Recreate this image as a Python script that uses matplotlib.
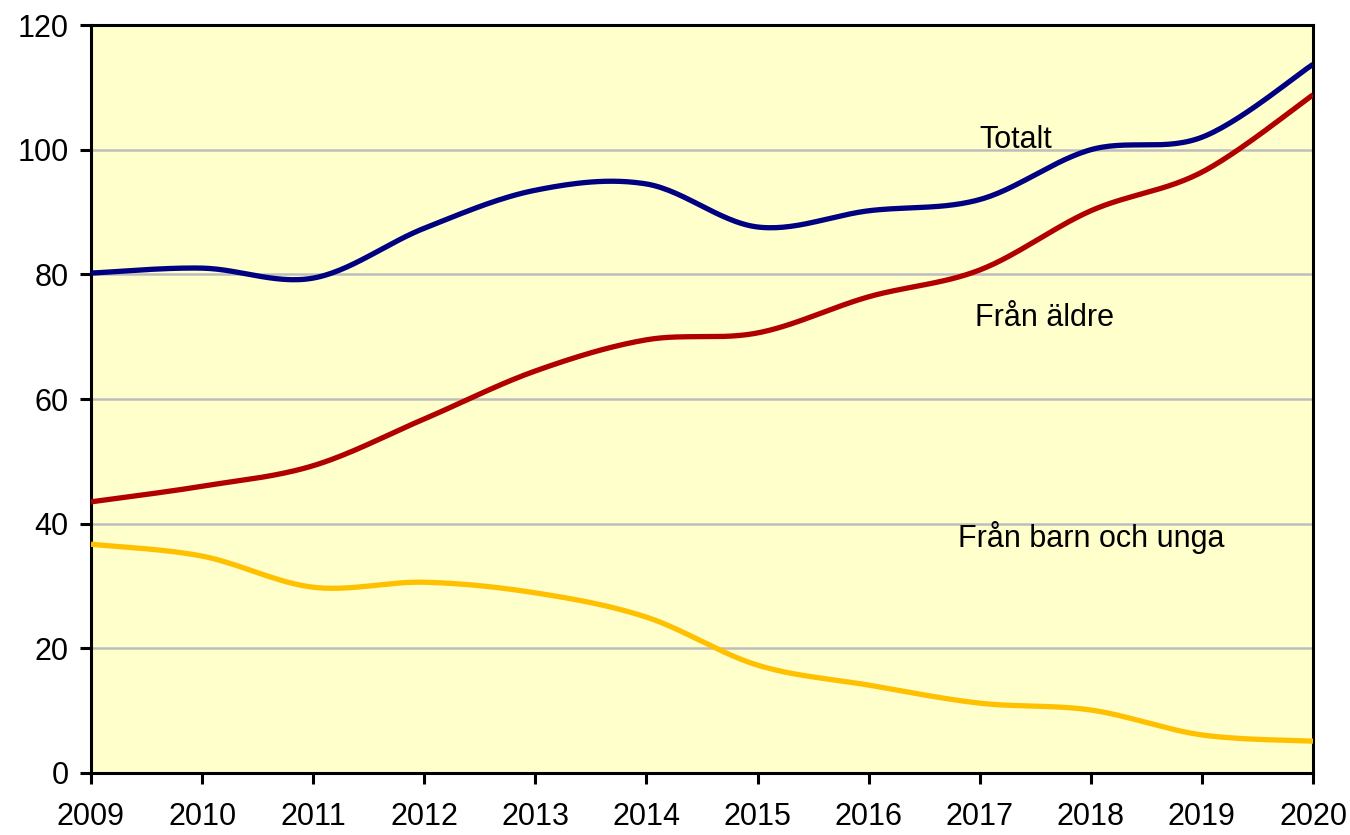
import numpy as np
import matplotlib
matplotlib.use("Agg")
import matplotlib.pyplot as plt

years = [2009, 2010, 2011, 2012, 2013, 2014, 2015, 2016, 2017, 2018, 2019, 2020]
totalt = [80.2, 81.0, 79.4, 87.4, 93.5, 94.5, 87.6, 90.2, 92.0, 100.0, 102.0, 113.7]
fran_aldre = [43.5, 46.0, 49.3, 56.8, 64.5, 69.5, 70.6, 76.4, 80.7, 90.2, 96.4, 108.8]
fran_barn = [36.7, 34.8, 29.8, 30.6, 28.9, 25.0, 17.3, 14.1, 11.2, 10.1, 6.1, 5.1]

plt.rcParams["font.family"] = ["Liberation Sans", "DejaVu Sans"]


def smooth(xs, ys, steps=30):
    """Excel-style smoothed line (Catmull-Rom through the points)."""
    x = np.asarray(xs, float)
    y = np.asarray(ys, float)
    px = np.concatenate([[x[0]], x, [x[-1]]])
    py = np.concatenate([[y[0]], y, [y[-1]]])
    out_x, out_y = [], []
    t = np.linspace(0, 1, steps, endpoint=False)
    for i in range(1, len(px) - 2):
        p0, p1, p2, p3 = px[i - 1], px[i], px[i + 1], px[i + 2]
        q0, q1, q2, q3 = py[i - 1], py[i], py[i + 1], py[i + 2]
        c1x, c2x = p1 + (p2 - p0) / 6, p2 - (p3 - p1) / 6
        c1y, c2y = q1 + (q2 - q0) / 6, q2 - (q3 - q1) / 6
        b = [(1 - t) ** 3, 3 * (1 - t) ** 2 * t, 3 * (1 - t) * t ** 2, t ** 3]
        out_x.append(b[0] * p1 + b[1] * c1x + b[2] * c2x + b[3] * p2)
        out_y.append(b[0] * q1 + b[1] * c1y + b[2] * c2y + b[3] * q2)
    out_x.append([x[-1]])
    out_y.append([y[-1]])
    return np.concatenate(out_x), np.concatenate(out_y)


fig = plt.figure(figsize=(13.5, 8.35), dpi=100)
ax = fig.add_axes([0.0674, 0.0743, 0.9052, 0.8957])
ax.set_facecolor("#FFFFCC")

for vals, color in [(totalt, "#000080"), (fran_aldre, "#B00000"), (fran_barn, "#FFC000")]:
    sx, sy = smooth(years, vals)
    ax.plot(sx, sy, color=color, linewidth=3.8, solid_capstyle="butt", zorder=3)

ax.set_xlim(2009, 2020)
ax.set_ylim(0, 120)
ax.set_xticks(years)
ax.set_yticks(range(0, 121, 20))
ax.yaxis.grid(True, color="#BDBDBD", linewidth=1.8)
ax.set_axisbelow(True)
for s in ax.spines.values():
    s.set_color("black")
    s.set_linewidth(2.2)
ax.tick_params(axis="both", direction="out", length=8, width=2.2, labelsize=22)
ax.tick_params(axis="x", pad=13)
ax.tick_params(axis="y", pad=8)

ax.text(2017.0, 101.6, "Totalt", fontsize=22, va="center")
ax.text(2016.96, 73.0, "Från äldre", fontsize=22, va="center")
ax.text(2016.8, 37.7, "Från barn och unga", fontsize=22, va="center")

fig.savefig("out.png", dpi=100)
